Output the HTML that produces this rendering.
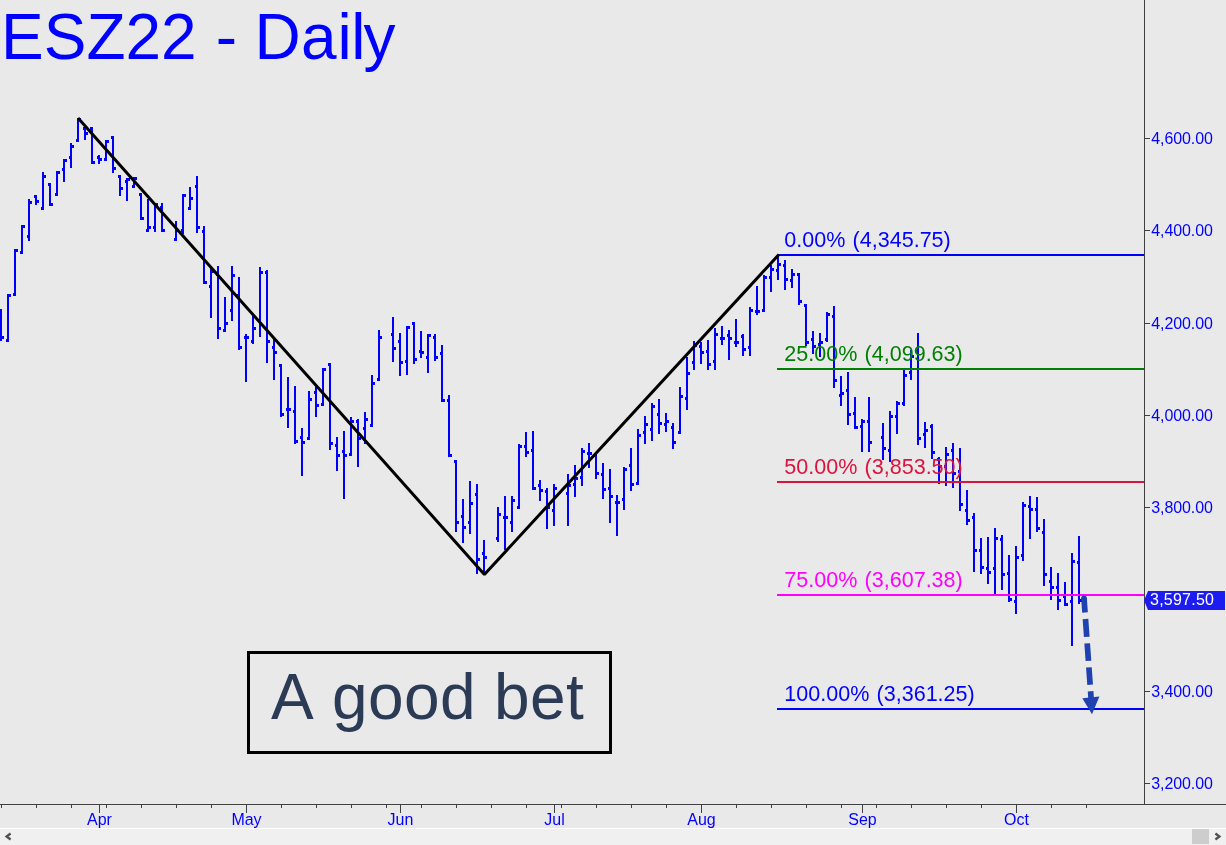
<!DOCTYPE html>
<html lang="en"><head><meta charset="utf-8"><title>ESZ22 - Daily</title>
<style>html,body{margin:0;padding:0;background:#e9e9e9;overflow:hidden}svg{display:block}text{font-family:"Liberation Sans",Arial,sans-serif;font-kerning:none;font-feature-settings:"kern" 0}</style>
</head><body>
<svg width="1226" height="845" viewBox="0 0 1226 845">
<rect x="0" y="0" width="1226" height="845" fill="#e9e9e9"/>
<g fill="#0000ff" shape-rendering="crispEdges">
<rect x="0" y="309" width="2" height="32"/>
<rect x="2" y="336" width="2" height="3"/>
<rect x="7" y="294" width="2" height="48"/>
<rect x="6" y="339" width="1" height="3"/>
<rect x="9" y="294" width="2" height="3"/>
<rect x="14" y="249" width="2" height="47"/>
<rect x="13" y="293" width="1" height="3"/>
<rect x="16" y="249" width="2" height="3"/>
<rect x="21" y="225" width="2" height="29"/>
<rect x="20" y="251" width="1" height="3"/>
<rect x="23" y="225" width="2" height="3"/>
<rect x="28" y="199" width="2" height="42"/>
<rect x="27" y="235" width="1" height="3"/>
<rect x="30" y="201" width="2" height="3"/>
<rect x="35" y="195" width="2" height="10"/>
<rect x="34" y="195" width="1" height="3"/>
<rect x="37" y="200" width="2" height="3"/>
<rect x="42" y="172" width="2" height="38"/>
<rect x="41" y="207" width="1" height="3"/>
<rect x="44" y="175" width="2" height="3"/>
<rect x="49" y="183" width="2" height="23"/>
<rect x="48" y="183" width="1" height="3"/>
<rect x="51" y="203" width="2" height="3"/>
<rect x="56" y="171" width="2" height="25"/>
<rect x="55" y="193" width="1" height="3"/>
<rect x="58" y="171" width="2" height="3"/>
<rect x="63" y="159" width="2" height="23"/>
<rect x="62" y="168" width="1" height="3"/>
<rect x="65" y="159" width="2" height="3"/>
<rect x="70" y="143" width="2" height="25"/>
<rect x="69" y="156" width="1" height="3"/>
<rect x="72" y="145" width="2" height="3"/>
<rect x="77" y="118" width="2" height="24"/>
<rect x="76" y="139" width="1" height="3"/>
<rect x="79" y="118" width="2" height="3"/>
<rect x="84" y="127" width="2" height="13"/>
<rect x="83" y="127" width="1" height="3"/>
<rect x="86" y="132" width="2" height="3"/>
<rect x="91" y="127" width="2" height="37"/>
<rect x="90" y="127" width="1" height="3"/>
<rect x="93" y="161" width="2" height="3"/>
<rect x="98" y="155" width="2" height="9"/>
<rect x="97" y="156" width="1" height="3"/>
<rect x="100" y="158" width="2" height="3"/>
<rect x="105" y="140" width="2" height="21"/>
<rect x="104" y="158" width="1" height="3"/>
<rect x="107" y="140" width="2" height="3"/>
<rect x="112" y="136" width="2" height="37"/>
<rect x="111" y="136" width="1" height="3"/>
<rect x="114" y="167" width="2" height="3"/>
<rect x="119" y="175" width="2" height="21"/>
<rect x="118" y="175" width="1" height="3"/>
<rect x="121" y="187" width="2" height="3"/>
<rect x="126" y="178" width="2" height="23"/>
<rect x="125" y="180" width="1" height="3"/>
<rect x="128" y="178" width="2" height="3"/>
<rect x="133" y="177" width="2" height="11"/>
<rect x="132" y="185" width="1" height="3"/>
<rect x="135" y="177" width="2" height="3"/>
<rect x="140" y="193" width="2" height="27"/>
<rect x="139" y="193" width="1" height="3"/>
<rect x="142" y="217" width="2" height="3"/>
<rect x="147" y="199" width="2" height="33"/>
<rect x="146" y="229" width="1" height="3"/>
<rect x="149" y="226" width="2" height="3"/>
<rect x="154" y="203" width="2" height="29"/>
<rect x="153" y="226" width="1" height="3"/>
<rect x="156" y="203" width="2" height="3"/>
<rect x="161" y="203" width="2" height="29"/>
<rect x="160" y="206" width="1" height="3"/>
<rect x="163" y="229" width="2" height="3"/>
<rect x="175" y="221" width="2" height="20"/>
<rect x="174" y="238" width="1" height="3"/>
<rect x="177" y="229" width="2" height="3"/>
<rect x="182" y="194" width="2" height="40"/>
<rect x="181" y="229" width="1" height="3"/>
<rect x="184" y="194" width="2" height="3"/>
<rect x="189" y="187" width="2" height="23"/>
<rect x="188" y="207" width="1" height="3"/>
<rect x="191" y="197" width="2" height="3"/>
<rect x="196" y="176" width="2" height="57"/>
<rect x="195" y="185" width="1" height="3"/>
<rect x="198" y="226" width="2" height="3"/>
<rect x="203" y="226" width="2" height="58"/>
<rect x="202" y="230" width="1" height="3"/>
<rect x="205" y="281" width="2" height="3"/>
<rect x="210" y="268" width="2" height="50"/>
<rect x="209" y="285" width="1" height="3"/>
<rect x="212" y="270" width="2" height="3"/>
<rect x="217" y="266" width="2" height="73"/>
<rect x="216" y="273" width="1" height="3"/>
<rect x="219" y="327" width="2" height="3"/>
<rect x="224" y="297" width="2" height="35"/>
<rect x="223" y="329" width="1" height="3"/>
<rect x="226" y="322" width="2" height="3"/>
<rect x="231" y="266" width="2" height="55"/>
<rect x="230" y="309" width="1" height="3"/>
<rect x="233" y="274" width="2" height="3"/>
<rect x="238" y="277" width="2" height="73"/>
<rect x="237" y="294" width="1" height="3"/>
<rect x="240" y="346" width="2" height="3"/>
<rect x="245" y="334" width="2" height="48"/>
<rect x="244" y="336" width="1" height="3"/>
<rect x="247" y="336" width="2" height="3"/>
<rect x="252" y="316" width="2" height="28"/>
<rect x="251" y="340" width="1" height="3"/>
<rect x="254" y="327" width="2" height="3"/>
<rect x="259" y="267" width="2" height="70"/>
<rect x="258" y="319" width="1" height="3"/>
<rect x="261" y="271" width="2" height="3"/>
<rect x="266" y="270" width="2" height="93"/>
<rect x="265" y="271" width="1" height="3"/>
<rect x="268" y="340" width="2" height="3"/>
<rect x="273" y="338" width="2" height="42"/>
<rect x="272" y="346" width="1" height="3"/>
<rect x="275" y="351" width="2" height="3"/>
<rect x="280" y="364" width="2" height="53"/>
<rect x="279" y="364" width="1" height="3"/>
<rect x="282" y="413" width="2" height="3"/>
<rect x="287" y="377" width="2" height="51"/>
<rect x="286" y="408" width="1" height="3"/>
<rect x="289" y="408" width="2" height="3"/>
<rect x="294" y="386" width="2" height="58"/>
<rect x="293" y="410" width="1" height="3"/>
<rect x="296" y="440" width="2" height="3"/>
<rect x="301" y="428" width="2" height="48"/>
<rect x="300" y="436" width="1" height="3"/>
<rect x="303" y="441" width="2" height="3"/>
<rect x="308" y="391" width="2" height="49"/>
<rect x="307" y="437" width="1" height="3"/>
<rect x="310" y="398" width="2" height="3"/>
<rect x="315" y="387" width="2" height="30"/>
<rect x="314" y="391" width="1" height="3"/>
<rect x="317" y="404" width="2" height="3"/>
<rect x="322" y="368" width="2" height="38"/>
<rect x="321" y="403" width="1" height="3"/>
<rect x="324" y="368" width="2" height="3"/>
<rect x="329" y="363" width="2" height="87"/>
<rect x="328" y="363" width="1" height="3"/>
<rect x="331" y="442" width="2" height="3"/>
<rect x="336" y="437" width="2" height="34"/>
<rect x="335" y="444" width="1" height="3"/>
<rect x="338" y="454" width="2" height="3"/>
<rect x="343" y="431" width="2" height="68"/>
<rect x="342" y="450" width="1" height="3"/>
<rect x="345" y="454" width="2" height="3"/>
<rect x="350" y="417" width="2" height="39"/>
<rect x="349" y="453" width="1" height="3"/>
<rect x="352" y="420" width="2" height="3"/>
<rect x="357" y="419" width="2" height="48"/>
<rect x="356" y="420" width="1" height="3"/>
<rect x="359" y="437" width="2" height="3"/>
<rect x="364" y="412" width="2" height="32"/>
<rect x="363" y="427" width="1" height="3"/>
<rect x="366" y="418" width="2" height="3"/>
<rect x="371" y="375" width="2" height="52"/>
<rect x="370" y="424" width="1" height="3"/>
<rect x="373" y="382" width="2" height="3"/>
<rect x="378" y="330" width="2" height="51"/>
<rect x="377" y="378" width="1" height="3"/>
<rect x="380" y="336" width="2" height="3"/>
<rect x="392" y="317" width="2" height="45"/>
<rect x="391" y="333" width="1" height="3"/>
<rect x="394" y="347" width="2" height="3"/>
<rect x="399" y="333" width="2" height="43"/>
<rect x="398" y="340" width="1" height="3"/>
<rect x="401" y="361" width="2" height="3"/>
<rect x="406" y="326" width="2" height="49"/>
<rect x="405" y="360" width="1" height="3"/>
<rect x="408" y="326" width="2" height="3"/>
<rect x="413" y="322" width="2" height="42"/>
<rect x="412" y="322" width="1" height="3"/>
<rect x="415" y="358" width="2" height="3"/>
<rect x="420" y="331" width="2" height="27"/>
<rect x="419" y="350" width="1" height="3"/>
<rect x="422" y="351" width="2" height="3"/>
<rect x="427" y="334" width="2" height="39"/>
<rect x="426" y="356" width="1" height="3"/>
<rect x="429" y="334" width="2" height="3"/>
<rect x="434" y="334" width="2" height="27"/>
<rect x="433" y="336" width="1" height="3"/>
<rect x="436" y="356" width="2" height="3"/>
<rect x="441" y="345" width="2" height="57"/>
<rect x="440" y="352" width="1" height="3"/>
<rect x="443" y="399" width="2" height="3"/>
<rect x="448" y="395" width="2" height="62"/>
<rect x="447" y="399" width="1" height="3"/>
<rect x="450" y="454" width="2" height="3"/>
<rect x="455" y="460" width="2" height="72"/>
<rect x="454" y="460" width="1" height="3"/>
<rect x="457" y="521" width="2" height="3"/>
<rect x="462" y="499" width="2" height="44"/>
<rect x="461" y="515" width="1" height="3"/>
<rect x="464" y="526" width="2" height="3"/>
<rect x="469" y="481" width="2" height="53"/>
<rect x="468" y="521" width="1" height="3"/>
<rect x="471" y="502" width="2" height="3"/>
<rect x="476" y="484" width="2" height="90"/>
<rect x="475" y="493" width="1" height="3"/>
<rect x="478" y="558" width="2" height="3"/>
<rect x="483" y="540" width="2" height="33"/>
<rect x="482" y="552" width="1" height="3"/>
<rect x="485" y="556" width="2" height="3"/>
<rect x="497" y="507" width="2" height="35"/>
<rect x="496" y="537" width="1" height="3"/>
<rect x="499" y="513" width="2" height="3"/>
<rect x="504" y="496" width="2" height="54"/>
<rect x="503" y="516" width="1" height="3"/>
<rect x="506" y="516" width="2" height="3"/>
<rect x="511" y="496" width="2" height="36"/>
<rect x="510" y="521" width="1" height="3"/>
<rect x="513" y="499" width="2" height="3"/>
<rect x="518" y="444" width="2" height="65"/>
<rect x="517" y="506" width="1" height="3"/>
<rect x="520" y="445" width="2" height="3"/>
<rect x="525" y="432" width="2" height="25"/>
<rect x="524" y="445" width="1" height="3"/>
<rect x="527" y="451" width="2" height="3"/>
<rect x="532" y="431" width="2" height="59"/>
<rect x="531" y="449" width="1" height="3"/>
<rect x="534" y="487" width="2" height="3"/>
<rect x="539" y="480" width="2" height="21"/>
<rect x="538" y="484" width="1" height="3"/>
<rect x="541" y="489" width="2" height="3"/>
<rect x="546" y="488" width="2" height="41"/>
<rect x="545" y="490" width="1" height="3"/>
<rect x="548" y="506" width="2" height="3"/>
<rect x="553" y="484" width="2" height="42"/>
<rect x="552" y="509" width="1" height="3"/>
<rect x="555" y="487" width="2" height="3"/>
<rect x="567" y="474" width="2" height="52"/>
<rect x="566" y="492" width="1" height="3"/>
<rect x="569" y="484" width="2" height="3"/>
<rect x="574" y="465" width="2" height="32"/>
<rect x="573" y="483" width="1" height="3"/>
<rect x="576" y="477" width="2" height="3"/>
<rect x="581" y="448" width="2" height="38"/>
<rect x="580" y="476" width="1" height="3"/>
<rect x="583" y="450" width="2" height="3"/>
<rect x="588" y="443" width="2" height="25"/>
<rect x="587" y="452" width="1" height="3"/>
<rect x="590" y="452" width="2" height="3"/>
<rect x="595" y="454" width="2" height="25"/>
<rect x="594" y="454" width="1" height="3"/>
<rect x="597" y="472" width="2" height="3"/>
<rect x="602" y="463" width="2" height="36"/>
<rect x="601" y="473" width="1" height="3"/>
<rect x="604" y="488" width="2" height="3"/>
<rect x="609" y="469" width="2" height="54"/>
<rect x="608" y="487" width="1" height="3"/>
<rect x="611" y="495" width="2" height="3"/>
<rect x="616" y="495" width="2" height="41"/>
<rect x="615" y="501" width="1" height="3"/>
<rect x="618" y="501" width="2" height="3"/>
<rect x="623" y="467" width="2" height="43"/>
<rect x="622" y="498" width="1" height="3"/>
<rect x="625" y="468" width="2" height="3"/>
<rect x="630" y="448" width="2" height="43"/>
<rect x="629" y="464" width="1" height="3"/>
<rect x="632" y="483" width="2" height="3"/>
<rect x="637" y="429" width="2" height="56"/>
<rect x="636" y="482" width="1" height="3"/>
<rect x="639" y="434" width="2" height="3"/>
<rect x="644" y="416" width="2" height="28"/>
<rect x="643" y="431" width="1" height="3"/>
<rect x="646" y="423" width="2" height="3"/>
<rect x="651" y="403" width="2" height="38"/>
<rect x="650" y="428" width="1" height="3"/>
<rect x="653" y="405" width="2" height="3"/>
<rect x="658" y="399" width="2" height="35"/>
<rect x="657" y="413" width="1" height="3"/>
<rect x="660" y="422" width="2" height="3"/>
<rect x="665" y="413" width="2" height="19"/>
<rect x="664" y="423" width="1" height="3"/>
<rect x="667" y="420" width="2" height="3"/>
<rect x="672" y="423" width="2" height="26"/>
<rect x="671" y="426" width="1" height="3"/>
<rect x="674" y="441" width="2" height="3"/>
<rect x="679" y="387" width="2" height="47"/>
<rect x="678" y="431" width="1" height="3"/>
<rect x="681" y="395" width="2" height="3"/>
<rect x="686" y="357" width="2" height="53"/>
<rect x="685" y="397" width="1" height="3"/>
<rect x="688" y="372" width="2" height="3"/>
<rect x="693" y="341" width="2" height="29"/>
<rect x="692" y="361" width="1" height="3"/>
<rect x="695" y="344" width="2" height="3"/>
<rect x="700" y="342" width="2" height="22"/>
<rect x="699" y="345" width="1" height="3"/>
<rect x="702" y="351" width="2" height="3"/>
<rect x="707" y="340" width="2" height="30"/>
<rect x="706" y="350" width="1" height="3"/>
<rect x="709" y="363" width="2" height="3"/>
<rect x="714" y="328" width="2" height="42"/>
<rect x="713" y="360" width="1" height="3"/>
<rect x="716" y="333" width="2" height="3"/>
<rect x="721" y="326" width="2" height="19"/>
<rect x="720" y="337" width="1" height="3"/>
<rect x="723" y="337" width="2" height="3"/>
<rect x="728" y="330" width="2" height="30"/>
<rect x="727" y="334" width="1" height="3"/>
<rect x="730" y="337" width="2" height="3"/>
<rect x="735" y="319" width="2" height="28"/>
<rect x="734" y="341" width="1" height="3"/>
<rect x="737" y="341" width="2" height="3"/>
<rect x="742" y="334" width="2" height="22"/>
<rect x="741" y="335" width="1" height="3"/>
<rect x="744" y="348" width="2" height="3"/>
<rect x="749" y="307" width="2" height="49"/>
<rect x="748" y="346" width="1" height="3"/>
<rect x="751" y="309" width="2" height="3"/>
<rect x="756" y="286" width="2" height="29"/>
<rect x="755" y="310" width="1" height="3"/>
<rect x="758" y="310" width="2" height="3"/>
<rect x="763" y="275" width="2" height="37"/>
<rect x="762" y="309" width="1" height="3"/>
<rect x="765" y="276" width="2" height="3"/>
<rect x="770" y="265" width="2" height="27"/>
<rect x="769" y="276" width="1" height="3"/>
<rect x="772" y="268" width="2" height="3"/>
<rect x="777" y="255" width="2" height="25"/>
<rect x="776" y="269" width="1" height="3"/>
<rect x="779" y="263" width="2" height="3"/>
<rect x="784" y="260" width="2" height="30"/>
<rect x="783" y="264" width="1" height="3"/>
<rect x="786" y="278" width="2" height="3"/>
<rect x="791" y="269" width="2" height="19"/>
<rect x="790" y="279" width="1" height="3"/>
<rect x="793" y="273" width="2" height="3"/>
<rect x="798" y="273" width="2" height="32"/>
<rect x="797" y="273" width="1" height="3"/>
<rect x="800" y="300" width="2" height="3"/>
<rect x="805" y="304" width="2" height="42"/>
<rect x="804" y="304" width="1" height="3"/>
<rect x="807" y="341" width="2" height="3"/>
<rect x="812" y="331" width="2" height="23"/>
<rect x="811" y="338" width="1" height="3"/>
<rect x="814" y="345" width="2" height="3"/>
<rect x="819" y="333" width="2" height="24"/>
<rect x="818" y="343" width="1" height="3"/>
<rect x="821" y="341" width="2" height="3"/>
<rect x="826" y="312" width="2" height="30"/>
<rect x="825" y="338" width="1" height="3"/>
<rect x="828" y="313" width="2" height="3"/>
<rect x="833" y="306" width="2" height="82"/>
<rect x="832" y="315" width="1" height="3"/>
<rect x="835" y="379" width="2" height="3"/>
<rect x="840" y="376" width="2" height="30"/>
<rect x="839" y="394" width="1" height="3"/>
<rect x="842" y="392" width="2" height="3"/>
<rect x="847" y="372" width="2" height="53"/>
<rect x="846" y="389" width="1" height="3"/>
<rect x="849" y="413" width="2" height="3"/>
<rect x="854" y="397" width="2" height="32"/>
<rect x="853" y="412" width="1" height="3"/>
<rect x="856" y="426" width="2" height="3"/>
<rect x="861" y="419" width="2" height="33"/>
<rect x="860" y="425" width="1" height="3"/>
<rect x="863" y="420" width="2" height="3"/>
<rect x="868" y="397" width="2" height="55"/>
<rect x="867" y="420" width="1" height="3"/>
<rect x="870" y="441" width="2" height="3"/>
<rect x="882" y="423" width="2" height="37"/>
<rect x="881" y="436" width="1" height="3"/>
<rect x="884" y="447" width="2" height="3"/>
<rect x="889" y="411" width="2" height="51"/>
<rect x="888" y="449" width="1" height="3"/>
<rect x="891" y="415" width="2" height="3"/>
<rect x="896" y="401" width="2" height="33"/>
<rect x="895" y="415" width="1" height="3"/>
<rect x="898" y="402" width="2" height="3"/>
<rect x="903" y="369" width="2" height="37"/>
<rect x="902" y="402" width="1" height="3"/>
<rect x="905" y="374" width="2" height="3"/>
<rect x="910" y="350" width="2" height="30"/>
<rect x="909" y="371" width="1" height="3"/>
<rect x="912" y="355" width="2" height="3"/>
<rect x="917" y="333" width="2" height="112"/>
<rect x="916" y="350" width="1" height="3"/>
<rect x="919" y="437" width="2" height="3"/>
<rect x="924" y="422" width="2" height="26"/>
<rect x="923" y="433" width="1" height="3"/>
<rect x="926" y="429" width="2" height="3"/>
<rect x="931" y="424" width="2" height="35"/>
<rect x="930" y="425" width="1" height="3"/>
<rect x="933" y="451" width="2" height="3"/>
<rect x="938" y="457" width="2" height="27"/>
<rect x="937" y="458" width="1" height="3"/>
<rect x="940" y="465" width="2" height="3"/>
<rect x="945" y="447" width="2" height="39"/>
<rect x="944" y="465" width="1" height="3"/>
<rect x="947" y="453" width="2" height="3"/>
<rect x="952" y="443" width="2" height="45"/>
<rect x="951" y="449" width="1" height="3"/>
<rect x="954" y="472" width="2" height="3"/>
<rect x="959" y="448" width="2" height="63"/>
<rect x="958" y="470" width="1" height="3"/>
<rect x="961" y="503" width="2" height="3"/>
<rect x="966" y="490" width="2" height="35"/>
<rect x="965" y="509" width="1" height="3"/>
<rect x="968" y="519" width="2" height="3"/>
<rect x="973" y="513" width="2" height="59"/>
<rect x="972" y="516" width="1" height="3"/>
<rect x="975" y="549" width="2" height="3"/>
<rect x="980" y="538" width="2" height="36"/>
<rect x="979" y="549" width="1" height="3"/>
<rect x="982" y="566" width="2" height="3"/>
<rect x="987" y="537" width="2" height="47"/>
<rect x="986" y="567" width="1" height="3"/>
<rect x="989" y="571" width="2" height="3"/>
<rect x="994" y="528" width="2" height="66"/>
<rect x="993" y="567" width="1" height="3"/>
<rect x="996" y="537" width="2" height="3"/>
<rect x="1001" y="535" width="2" height="55"/>
<rect x="1000" y="538" width="1" height="3"/>
<rect x="1003" y="573" width="2" height="3"/>
<rect x="1008" y="555" width="2" height="47"/>
<rect x="1007" y="572" width="1" height="3"/>
<rect x="1010" y="598" width="2" height="3"/>
<rect x="1015" y="546" width="2" height="68"/>
<rect x="1014" y="600" width="1" height="3"/>
<rect x="1017" y="556" width="2" height="3"/>
<rect x="1022" y="502" width="2" height="59"/>
<rect x="1021" y="554" width="1" height="3"/>
<rect x="1024" y="504" width="2" height="3"/>
<rect x="1029" y="496" width="2" height="43"/>
<rect x="1028" y="505" width="1" height="3"/>
<rect x="1031" y="508" width="2" height="3"/>
<rect x="1036" y="497" width="2" height="35"/>
<rect x="1035" y="508" width="1" height="3"/>
<rect x="1038" y="527" width="2" height="3"/>
<rect x="1043" y="519" width="2" height="67"/>
<rect x="1042" y="531" width="1" height="3"/>
<rect x="1045" y="573" width="2" height="3"/>
<rect x="1050" y="567" width="2" height="33"/>
<rect x="1049" y="580" width="1" height="3"/>
<rect x="1052" y="586" width="2" height="3"/>
<rect x="1057" y="573" width="2" height="37"/>
<rect x="1056" y="586" width="1" height="3"/>
<rect x="1059" y="599" width="2" height="3"/>
<rect x="1064" y="582" width="2" height="24"/>
<rect x="1063" y="595" width="1" height="3"/>
<rect x="1066" y="603" width="2" height="3"/>
<rect x="1071" y="553" width="2" height="93"/>
<rect x="1070" y="600" width="1" height="3"/>
<rect x="1073" y="560" width="2" height="3"/>
<rect x="1078" y="536" width="2" height="68"/>
<rect x="1077" y="561" width="1" height="3"/>
<rect x="1080" y="599" width="2" height="3"/>
</g>
<g shape-rendering="crispEdges">
<rect x="777" y="254" width="367" height="2" fill="#0000ff"/>
<rect x="777" y="368" width="367" height="2" fill="#008000"/>
<rect x="777" y="481" width="367" height="2" fill="#dc143c"/>
<rect x="777" y="594" width="367" height="2" fill="#ff00ff"/>
<rect x="777" y="708" width="367" height="2" fill="#0000ff"/>
</g>
<text transform="translate(784.2,247.4) scale(1,1.03)" font-size="21.55" fill="#0000ff" dx="0 0 0 0 0 1.3">0.00% (4,345.75)</text>
<text transform="translate(784.2,361.4) scale(1,1.03)" font-size="21.55" fill="#008000" dx="0 0 0 0 0 0 1.3">25.00% (4,099.63)</text>
<text transform="translate(784.2,474.4) scale(1,1.03)" font-size="21.55" fill="#dc143c" dx="0 0 0 0 0 0 1.3">50.00% (3,853.50)</text>
<text transform="translate(784.2,587.4) scale(1,1.03)" font-size="21.55" fill="#ff00ff" dx="0 0 0 0 0 0 1.3">75.00% (3,607.38)</text>
<text transform="translate(784.2,701.4) scale(1,1.03)" font-size="21.55" fill="#0000ff" dx="0 0 0 0 0 0 0 1.3">100.00% (3,361.25)</text>
<polyline points="78,118 484.4,574.5 779,254.4" fill="none" stroke="#000" stroke-width="3" stroke-linejoin="bevel"/>
<g fill="#404040" shape-rendering="crispEdges">
<rect x="1144" y="0" width="1" height="805"/>
<rect x="0" y="804" width="1226" height="1"/>
<rect x="1145" y="138" width="5" height="1"/>
<rect x="1145" y="230" width="5" height="1"/>
<rect x="1145" y="323" width="5" height="1"/>
<rect x="1145" y="415" width="5" height="1"/>
<rect x="1145" y="507" width="5" height="1"/>
<rect x="1145" y="599" width="5" height="1"/>
<rect x="1145" y="691" width="5" height="1"/>
<rect x="1145" y="783" width="5" height="1"/>
<rect x="1" y="805" width="1" height="3"/>
<rect x="36" y="805" width="1" height="3"/>
<rect x="71" y="805" width="1" height="3"/>
<rect x="106" y="805" width="1" height="3"/>
<rect x="141" y="805" width="1" height="3"/>
<rect x="176" y="805" width="1" height="3"/>
<rect x="211" y="805" width="1" height="3"/>
<rect x="246" y="805" width="1" height="3"/>
<rect x="281" y="805" width="1" height="3"/>
<rect x="316" y="805" width="1" height="3"/>
<rect x="351" y="805" width="1" height="3"/>
<rect x="386" y="805" width="1" height="3"/>
<rect x="421" y="805" width="1" height="3"/>
<rect x="456" y="805" width="1" height="3"/>
<rect x="491" y="805" width="1" height="3"/>
<rect x="526" y="805" width="1" height="3"/>
<rect x="561" y="805" width="1" height="3"/>
<rect x="596" y="805" width="1" height="3"/>
<rect x="631" y="805" width="1" height="3"/>
<rect x="666" y="805" width="1" height="3"/>
<rect x="701" y="805" width="1" height="3"/>
<rect x="736" y="805" width="1" height="3"/>
<rect x="771" y="805" width="1" height="3"/>
<rect x="806" y="805" width="1" height="3"/>
<rect x="841" y="805" width="1" height="3"/>
<rect x="876" y="805" width="1" height="3"/>
<rect x="911" y="805" width="1" height="3"/>
<rect x="946" y="805" width="1" height="3"/>
<rect x="981" y="805" width="1" height="3"/>
<rect x="1016" y="805" width="1" height="3"/>
<rect x="1051" y="805" width="1" height="3"/>
<rect x="1086" y="805" width="1" height="3"/>
<rect x="99" y="805" width="1" height="8"/>
<rect x="246" y="805" width="1" height="8"/>
<rect x="400" y="805" width="1" height="8"/>
<rect x="554" y="805" width="1" height="8"/>
<rect x="701" y="805" width="1" height="8"/>
<rect x="862" y="805" width="1" height="8"/>
<rect x="1016" y="805" width="1" height="8"/>
</g>
<text transform="translate(99.50,825.00) scale(1,1.040)" font-size="16" fill="#0000ff" text-anchor="middle">Apr</text>
<text transform="translate(246.50,825.00) scale(1,1.040)" font-size="16" fill="#0000ff" text-anchor="middle">May</text>
<text transform="translate(400.50,825.00) scale(1,1.040)" font-size="16" fill="#0000ff" text-anchor="middle">Jun</text>
<text transform="translate(554.50,825.00) scale(1,1.040)" font-size="16" fill="#0000ff" text-anchor="middle">Jul</text>
<text transform="translate(701.50,825.00) scale(1,1.040)" font-size="16" fill="#0000ff" text-anchor="middle">Aug</text>
<text transform="translate(862.50,825.00) scale(1,1.040)" font-size="16" fill="#0000ff" text-anchor="middle">Sep</text>
<text transform="translate(1016.50,825.00) scale(1,1.040)" font-size="16" fill="#0000ff" text-anchor="middle">Oct</text>
<text transform="translate(1151.3,143.80) scale(1,1.040)" font-size="16" fill="#0000ff" textLength="61.6" lengthAdjust="spacing">4,600.00</text>
<text transform="translate(1151.3,235.80) scale(1,1.040)" font-size="16" fill="#0000ff" textLength="61.6" lengthAdjust="spacing">4,400.00</text>
<text transform="translate(1151.3,328.80) scale(1,1.040)" font-size="16" fill="#0000ff" textLength="61.6" lengthAdjust="spacing">4,200.00</text>
<text transform="translate(1151.3,420.80) scale(1,1.040)" font-size="16" fill="#0000ff" textLength="61.6" lengthAdjust="spacing">4,000.00</text>
<text transform="translate(1151.3,512.80) scale(1,1.040)" font-size="16" fill="#0000ff" textLength="61.6" lengthAdjust="spacing">3,800.00</text>
<text transform="translate(1151.3,696.80) scale(1,1.040)" font-size="16" fill="#0000ff" textLength="61.6" lengthAdjust="spacing">3,400.00</text>
<text transform="translate(1151.3,788.80) scale(1,1.040)" font-size="16" fill="#0000ff" textLength="61.6" lengthAdjust="spacing">3,200.00</text>
<polygon points="1144,600.5 1148,591 1225,591 1225,610 1148,610" fill="#1c1cf0"/>
<text transform="translate(1150,604.8) scale(1,1.040)" font-size="16" fill="#ffffff" textLength="64" lengthAdjust="spacing">3,597.50</text>
<g fill="#1f42b0" stroke="none">
<circle cx="1084" cy="598.5" r="2.9"/>
</g>
<line x1="1084" y1="598" x2="1091.2" y2="700" stroke="#1f42b0" stroke-width="5.7" stroke-dasharray="14.5 6.5 18 6.5 17.5 6.5 17.5 6.5 40"/>
<polygon points="1082.3,698.3 1099.4,696.5 1092,714.3" fill="#1f42b0"/>
<text transform="translate(0,59) scale(1,1.025)" font-size="64" fill="#0000ff" x="1 43.7 86.4 125.5 161.1 196.7 215.7 237 254.6 300.95 337.4 351.35 363.6">ESZ22 - Daily</text>
<rect x="248.5" y="652.5" width="362" height="100" fill="none" stroke="#000" stroke-width="3" shape-rendering="crispEdges"/>
<text transform="translate(0,719.3) scale(1,1.0)" font-size="64" fill="#2b3a55" x="271 314 332 368 404 440 476 494 530 566">A good bet</text>
<g shape-rendering="crispEdges">
<rect x="0" y="828" width="1226" height="1" fill="#ffffff"/>
<rect x="0" y="829" width="1226" height="16" fill="#f0f0f0"/>
<rect x="1192" y="829" width="17" height="15" fill="#cdcdcd"/>
</g>
<polyline points="10.6,833.5 6.6,836.5 10.6,839.5" fill="none" stroke="#505050" stroke-width="2.3"/>
<polyline points="1215.4,833.5 1219.4,836.5 1215.4,839.5" fill="none" stroke="#505050" stroke-width="2.3"/>
</svg></body></html>
